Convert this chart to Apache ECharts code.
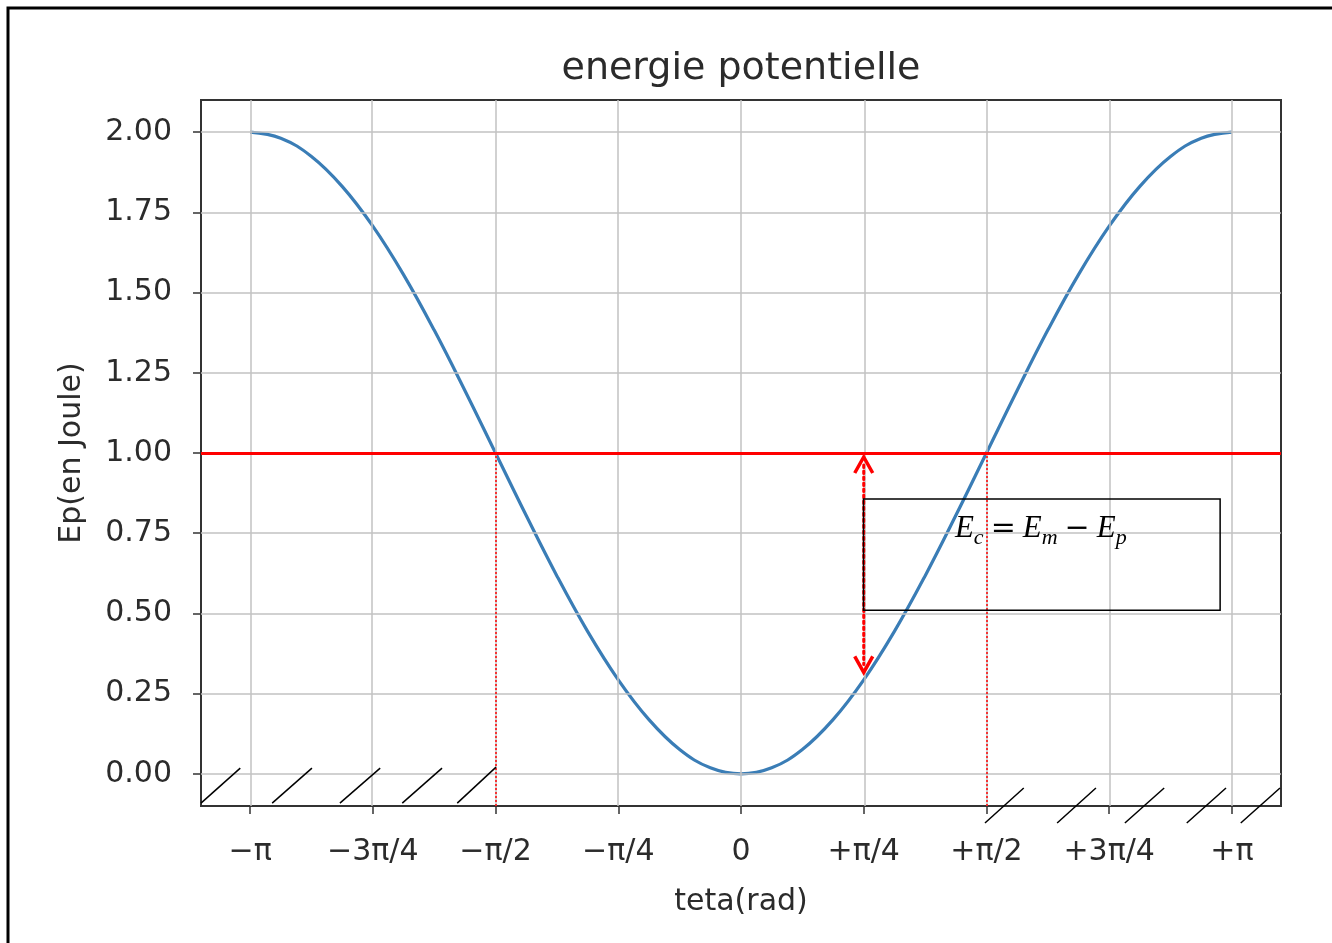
<!DOCTYPE html>
<html><head><meta charset="utf-8">
<script src="https://cdn.jsdelivr.net/npm/echarts@6/dist/echarts.min.js"></script>
<style>html,body{margin:0;padding:0;background:#fff}#c{width:1332px;height:943px}</style>
</head><body><div id="c"></div>
<script>
// ---- data ----
const titleText = 'energie potentielle';
const xName = 'teta(rad)';
const yName = 'Ep(en Joule)';
// sample angles, in multiples of pi/16
const angleSteps = [-16,-15,-14,-13,-12,-11,-10,-9,-8,-7,-6,-5,-4,-3,-2,-1,0,1,2,3,4,5,6,7,8,9,10,11,12,13,14,15,16];
// Ep (Joule)
const epValues = [2.000,1.981,1.924,1.831,1.707,1.556,1.383,1.195,1.000,0.805,0.617,0.444,0.293,0.169,0.076,0.019,0.000,0.019,0.076,0.169,0.293,0.444,0.617,0.805,1.000,1.195,1.383,1.556,1.707,1.831,1.924,1.981,2.000];
// x tick positions in multiples of pi/4, and their labels
const xTickSteps = [-4,-3,-2,-1,0,1,2,3,4];
const xTickLabels = ['−π','−3π/4','−π/2','−π/4','0','+π/4','+π/2','+3π/4','+π'];
const yTicks = [0,0.25,0.5,0.75,1.0,1.25,1.5,1.75,2.0];
const emLevel = 1.0;              // mechanical energy line
const crossingSteps = [-2, 2];    // Ep = Em at ±pi/2 (pi/4 multiples)
const arrowStep = 1;              // arrow at +pi/4
const arrowLow = 0.31;            // Ep at +pi/4
// formula pieces: [text, isSubscript]
const formulaParts = [['E',0],['c',1],['=',0],['E',0],['m',1],['−',0],['E',0],['p',1]];

// ---- annotation geometry (data units: x in multiples of pi, y in Joule) ----
const hatchMarks = [
  [-1.100,-0.091,-1.020,0.018],[-0.955,-0.091,-0.874,0.018],[-0.817,-0.091,-0.735,0.018],
  [-0.690,-0.091,-0.609,0.018],[-0.578,-0.091,-0.499,0.021],
  [0.497,-0.153,0.576,-0.044],[0.644,-0.153,0.723,-0.044],[0.782,-0.153,0.862,-0.044],
  [0.908,-0.153,0.988,-0.044],[1.018,-0.153,1.098,-0.044]
];
const formulaBox = {x1:0.2495, y1:0.857, x2:0.976, y2:0.51};

(function(){
const PI = Math.PI;
const curve = angleSteps.map((k,i)=>[k*PI/16, epValues[i]]);
const xTickVals = xTickSteps.map(k=>k*PI/4);
const xMin = -1.1*PI, xMax = 1.1*PI, yMin = -0.1, yMax = 2.1;

const chart = echarts.init(document.getElementById('c'));
const txt = '#2b2b2b';
const FONT = 'DejaVu Sans';
const option = {
  animation:false,
  backgroundColor:'#fff',
  grid:{left:201, right:51, top:100, bottom:137, show:true, borderColor:'#333', borderWidth:2, backgroundColor:'transparent'},
  xAxis:{
    type:'value', min:xMin, max:xMax,
    name:xName, nameLocation:'middle', nameGap:81,
    nameTextStyle:{color:txt, fontSize:30, fontFamily:FONT},
    axisLine:{show:false, onZero:false},
    axisTick:{show:true, customValues:xTickVals, length:8, lineStyle:{color:'#333', width:1.5}},
    axisLabel:{customValues:xTickVals, margin:31, color:txt, fontSize:30, fontFamily:FONT,
      formatter:(v)=>{const i=xTickVals.findIndex(t=>Math.abs(t-v)<1e-6); return i>=0?xTickLabels[i]:'';}},
    splitLine:{show:false}
  },
  yAxis:{
    type:'value', min:yMin, max:yMax,
    name:yName, nameLocation:'middle', nameGap:114, nameRotate:90,
    nameTextStyle:{color:txt, fontSize:30, fontFamily:FONT},
    axisLine:{show:false, onZero:false},
    axisTick:{show:true, customValues:yTicks, length:8, lineStyle:{color:'#333', width:1.5}},
    axisLabel:{customValues:yTicks, margin:29, color:txt, fontSize:30, fontFamily:FONT,
      formatter:(v)=>v.toFixed(2)},
    splitLine:{show:false}
  },
  series:[
    { // grid lines
      type:'line', data:[], z:1, silent:true,
      markLine:{silent:true, symbol:['none','none'], label:{show:false}, animation:false,
        lineStyle:{color:'#c2c2c2', width:1.5, type:'solid'},
        data:[...xTickVals.map(v=>({xAxis:v})), ...yTicks.map(v=>({yAxis:v}))]}
    },
    {
      type:'line', data:curve, showSymbol:false, smooth:0.4, z:3,
      lineStyle:{color:'#3a7db6', width:3.2}
    },
    { // Em line and crossings
      type:'line', data:[], z:4, silent:true,
      markLine:{silent:true, symbol:['none','none'], label:{show:false}, animation:false,
        data:[
          {yAxis:emLevel, lineStyle:{color:'#ff0000', width:3, type:'solid'}},
          ...crossingSteps.map(k=>[{coord:[k*PI/4, yMin], lineStyle:{color:'#ff0000', width:1.5, type:[2,2]}},{coord:[k*PI/4, emLevel]}])
        ]}
    }
  ]
};
chart.setOption(option);

function px(xPi, y){ return chart.convertToPixel({gridIndex:0},[xPi*PI, y]); }
const g = [];
g.push({type:'polyline', shape:{points:[[8,943],[8,8],[1340,8]]}, style:{stroke:'#000', lineWidth:3, fill:null}, z:10});
const tc = chart.convertToPixel({gridIndex:0},[0, yMax]);
g.push({type:'text', x:tc[0], y:69, style:{text:titleText, align:'center', verticalAlign:'middle', fill:txt, font:'38px "DejaVu Sans"'}, z:10});
hatchMarks.forEach(h=>{
  const a=px(h[0],h[1]), b=px(h[2],h[3]);
  g.push({type:'line', shape:{x1:a[0],y1:a[1],x2:b[0],y2:b[1]}, style:{stroke:'#000', lineWidth:1.5}, z:10});
});
// double arrow
const pTop = chart.convertToPixel({gridIndex:0},[arrowStep*PI/4, emLevel]);
const pBot = chart.convertToPixel({gridIndex:0},[arrowStep*PI/4, arrowLow]);
const ax = pTop[0];
const tY = pTop[1]+4, bY = pBot[1]-2;
g.push({type:'line', shape:{x1:ax,y1:tY+8,x2:ax,y2:bY-8}, style:{stroke:'#ff0000', lineWidth:3, lineDash:[2.5,3.5], lineCap:'round'}, z:11});
g.push({type:'polyline', shape:{points:[[ax-9,tY+16],[ax,tY],[ax+9,tY+16]]}, style:{stroke:'#ff0000', lineWidth:3.5, fill:null}, z:11});
g.push({type:'polyline', shape:{points:[[ax-9,bY-16],[ax,bY],[ax+9,bY-16]]}, style:{stroke:'#ff0000', lineWidth:3.5, fill:null}, z:11});
// formula box
const b1 = px(formulaBox.x1, formulaBox.y1), b2 = px(formulaBox.x2, formulaBox.y2);
g.push({type:'rect', shape:{x:b1[0], y:b1[1], width:b2[0]-b1[0], height:b2[1]-b1[1]}, style:{stroke:'#000', lineWidth:1.5, fill:null}, z:12});
// formula laid out piece by piece
const ctx = document.createElement('canvas').getContext('2d');
const mainFont = 'italic 31px "Liberation Serif"', subFont = 'italic 22px "Liberation Serif"', opFont = '30px "DejaVu Serif"';
const fontOf = (t,s)=> s ? subFont : (t==='E' ? mainFont : opFont);
const opPad = 7;
let widths = formulaParts.map(([t,s])=>{ctx.font=fontOf(t,s); return ctx.measureText(t).width + ((t==='='||t==='−')?2*opPad:0);});
const total = widths.reduce((a,b)=>a+b,0);
let cx = (b1[0]+b2[0])/2 - 1 - total/2;
const baseY = b1[1] + 45;
formulaParts.forEach(([t,s],i)=>{
  const isOp = (t==='='||t==='−');
  g.push({type:'text', x:cx + (isOp?opPad:0), y: s ? baseY+5 : baseY,
    style:{text:t, font:fontOf(t,s), fill:'#000', align:'left', verticalAlign:'bottom'}, z:12});
  cx += widths[i];
});
chart.setOption({graphic:g});
})();
</script></body></html>
